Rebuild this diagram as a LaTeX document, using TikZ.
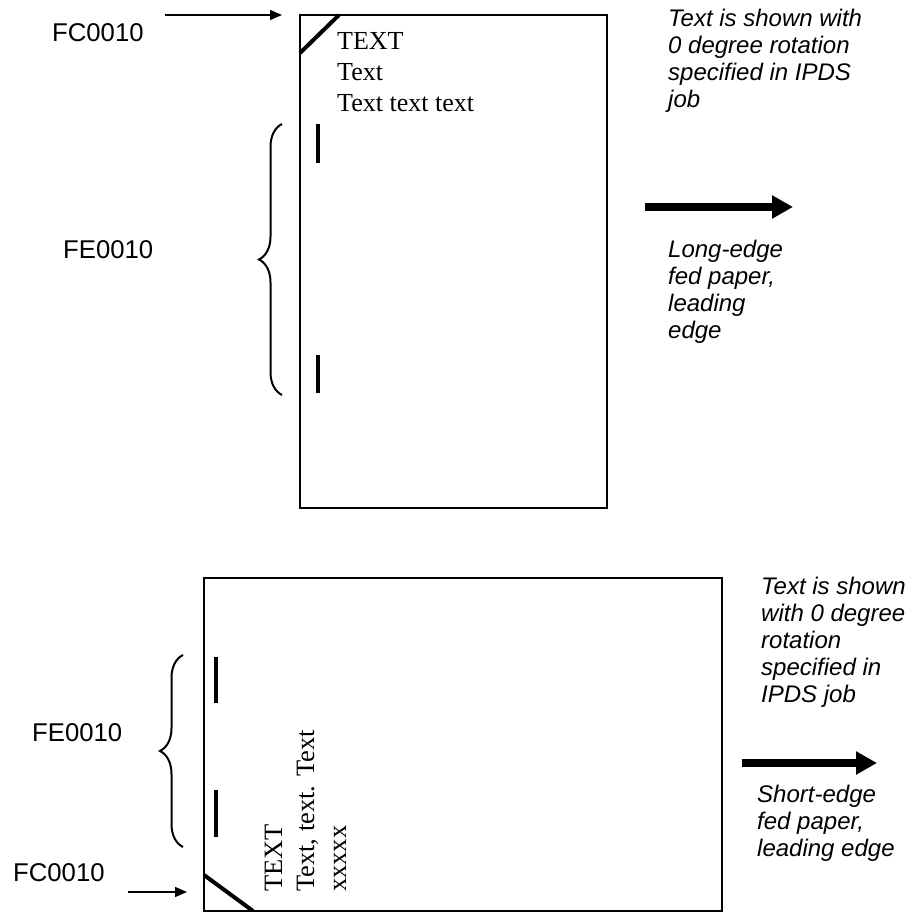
\documentclass[tikz,border=0pt]{standalone}
\usepackage{fontspec}
\setmainfont{Liberation Serif}
\newfontfamily\labfont{Liberation Sans}
\usetikzlibrary{arrows.meta,decorations.pathreplacing}
\tikzset{
  paper/.style={draw=black,line width=2pt},
  corner/.style={draw=black,line width=4pt},
  tick/.style={draw=black,line width=4.5pt},
  curly/.style={draw=black,line width=2pt,decorate,decoration={brace,amplitude=23pt}},
  thinarrow/.style={draw=black,line width=1.5pt,-{Triangle[length=12pt,width=10pt]}},
  feedarrow/.style={draw=black,line width=8pt,-{Triangle[length=21pt,width=22pt]}},
  lab/.style={anchor=base west,inner sep=0pt,font=\labfont\fontsize{25.7}{30}\selectfont},
  note/.style={anchor=base west,inner sep=0pt,align=left,font=\labfont\itshape\fontsize{24}{27}\selectfont},
  boxtext/.style={anchor=base west,inner sep=0pt,align=left,font=\fontsize{26}{31}\selectfont},
  rottext/.style={anchor=base west,inner sep=0pt,align=left,rotate=90,font=\fontsize{26.5}{32}\selectfont}
}
\begin{document}
\begin{tikzpicture}[x=1pt,y=1pt]
\useasboundingbox (0,0) rectangle (915,912);
% ---------- top (long-edge fed) ----------
\coordinate (tTL) at (300,897);
\coordinate (tBR) at (607,404);
\draw[paper] (tTL) rectangle (tBR);
\coordinate (tdA) at (300,859);
\coordinate (tdB) at (339,897);
\draw[corner] (tdA) -- (tdB);
\node[lab] (fc1) at (52,870) {FC0010};
\coordinate (fc1s) at (165,897);
\coordinate (fc1e) at (282,897);
\draw[thinarrow] (fc1s) -- (fc1e);
\node[boxtext] (bt1) at (337,800) {TEXT\\Text\\Text text text};
\coordinate (tk1a) at (318,788);
\coordinate (tk1b) at (318,749);
\coordinate (tk2a) at (318,557);
\coordinate (tk2b) at (318,519);
\draw[tick] (tk1a) -- (tk1b);
\draw[tick] (tk2a) -- (tk2b);
\coordinate (br1b) at (282,517);
\coordinate (br1t) at (282,788);
\draw[curly] (br1b) -- (br1t);
\node[lab] (fe1) at (63,653) {FE0010};
\node[note] (n1) at (668,804) {Text is shown with\\0 degree rotation\\specified in IPDS\\job};
\coordinate (fa1s) at (645,705);
\coordinate (fa1e) at (793,705);
\draw[feedarrow] (fa1s) -- (fa1e);
\node[note] (n2) at (668,573) {Long-edge\\fed paper,\\leading\\edge};
% ---------- bottom (short-edge fed) ----------
\coordinate (bTL) at (204,334);
\coordinate (bBR) at (722,1);
\draw[paper] (bTL) rectangle (bBR);
\coordinate (bdA) at (204,37);
\coordinate (bdB) at (253,1);
\draw[corner] (bdA) -- (bdB);
\node[lab] (fc2) at (13,30) {FC0010};
\coordinate (fc2s) at (128,20);
\coordinate (fc2e) at (187,20);
\draw[thinarrow] (fc2s) -- (fc2e);
\coordinate (tk3a) at (216,255);
\coordinate (tk3b) at (216,209);
\coordinate (tk4a) at (216,122);
\coordinate (tk4b) at (216,75);
\draw[tick] (tk3a) -- (tk3b);
\draw[tick] (tk4a) -- (tk4b);
\coordinate (br2b) at (183,65);
\coordinate (br2t) at (183,257);
\draw[curly] (br2b) -- (br2t);
\node[lab] (fe2) at (32,170) {FE0010};
\node[rottext] (bt2) at (346,20) {TEXT\\Text, text. Text\\xxxxx};
\node[note] (n3) at (761,209) {Text is shown\\with 0 degree\\rotation\\specified in\\IPDS job};
\coordinate (fa2s) at (742,149);
\coordinate (fa2e) at (877,149);
\draw[feedarrow] (fa2s) -- (fa2e);
\node[note] (n4) at (757,55) {Short-edge\\fed paper,\\leading edge};
\end{tikzpicture}
\end{document}
